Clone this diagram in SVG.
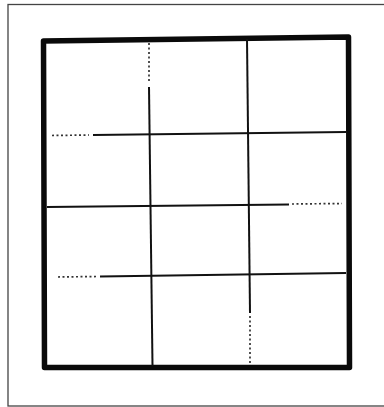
<svg xmlns="http://www.w3.org/2000/svg" width="384" height="407" viewBox="0 0 384 407">
<style>
.solid{stroke:#111;stroke-width:2;fill:none;stroke-linecap:butt}
.dot{stroke:#333;stroke-width:1.7;fill:none;stroke-dasharray:2 2.5}
</style>
<rect x="0" y="0" width="384" height="407" fill="#fff"/>
<rect x="8" y="4.5" width="380" height="401.5" fill="none" stroke="#444" stroke-width="1.3"/>
<g id="frame">
<path d="M43.5,41 L348.5,37 L349.5,367.5 L44.5,367.5 Z" fill="none" stroke="#0a0a0a" stroke-width="5.5" stroke-linejoin="round"/>
</g>
<g id="lines">
<path class="dot" d="M149,43 L149,81"/>
<path class="solid" d="M149,87 L152.5,366"/>
<path class="solid" d="M247,39 L250,313"/>
<path class="dot" d="M250,316 L250,365"/>
<path class="dot" d="M52,135.5 L89,135"/>
<path class="solid" d="M93,135 L346,132"/>
<path class="solid" d="M47,207 L289,204.5"/>
<path class="dot" d="M292,204 L342,203.5"/>
<path class="dot" d="M58,277 L96,276.5"/>
<path class="solid" d="M100,276.5 L346,273"/>
</g>
</svg>
